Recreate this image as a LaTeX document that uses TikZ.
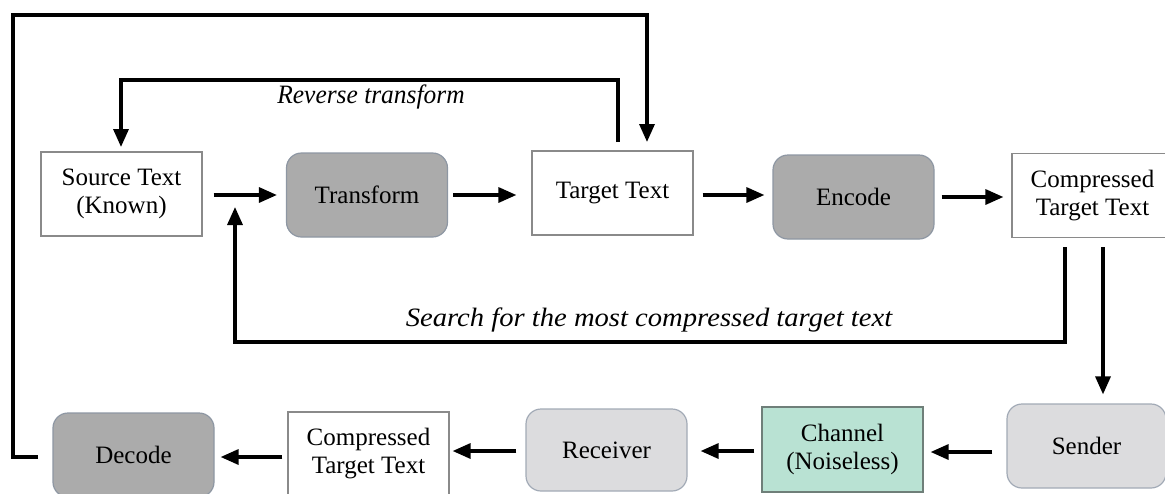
\documentclass[tikz,border=0pt]{standalone}
\usepackage{fontspec}
\setmainfont{Liberation Serif}
\usetikzlibrary{arrows.meta,calc}
\definecolor{opgray}{HTML}{ABABAB}
\definecolor{opedge}{HTML}{8E97A3}
\definecolor{lightbox}{HTML}{DCDCDE}
\definecolor{lightedge}{HTML}{A2AAB6}
\definecolor{chanfill}{HTML}{B9E2D3}
\definecolor{chanedge}{HTML}{6F7F79}
\definecolor{plainedge}{HTML}{8A8A8A}
\begin{document}
\begin{tikzpicture}[x=1pt,y=-1pt,
  every node/.style={inner sep=0pt,align=center,font=\fontsize{25}{28}\selectfont},
  box/.style={minimum width=161pt,minimum height=84pt},
  plain/.style={box,draw=plainedge,line width=1.2pt,fill=white},
  op/.style={box,draw=opedge,line width=1.2pt,fill=opgray,rounded corners=15pt},
  io/.style={box,draw=lightedge,line width=1.2pt,fill=lightbox,rounded corners=15pt},
  chan/.style={box,draw=chanedge,line width=1.2pt,fill=chanfill},
  flow/.style={line width=3.3pt,-{Triangle[length=18pt,width=15pt]}},
  lbl/.style={font=\itshape\fontsize{26.5}{28}\selectfont}]
\useasboundingbox (0,0) rectangle (1165,493);

% upper row: transform and encode
\node[plain] (src)   at (121.5,194) {Source Text\\(Known)};
\node[op]    (trans) at (367,195)   {Transform};
\node[plain] (tgt)   at (612.5,193) {Target Text};
\node[op]    (enc)   at (853.5,197) {Encode};
\node[plain] (cmp)   at (1092.5,195.5) {Compressed\\Target Text};

% lower row: transmission and decoding
\node[op]    (dec)   at (133.5,455) {Decode};
\node[plain] (rcmp)  at (368.5,454) {Compressed\\Target Text};
\node[io, minimum height=82pt] (recv) at (606.5,450) {Receiver};
\node[chan, minimum height=85pt] (chn) at (842.5,449.5) {Channel\\(Noiseless)};
\node[io, minimum width=159pt] (send) at (1086.5,446) {Sender};

% forward arrows, upper row
\draw[flow] ([xshift=11pt]src.east |- 0,195) -- ([xshift=-9pt]trans.west |- 0,195);
\draw[flow] ([xshift=5pt]trans.east |- 0,195) -- ([xshift=-15pt]tgt.west |- 0,195);
\draw[flow] ([xshift=9pt]tgt.east |- 0,195) -- ([xshift=-8pt]enc.west |- 0,195);
\draw[flow] ([xshift=7pt]enc.east |- 0,197) -- ([xshift=-8pt]cmp.west |- 0,197);

% reverse transform loop
\coordinate (revR) at (618,142);
\coordinate (revL) at (121,147);
\draw[flow] (revR) -- (618,80) -- (121,80) -- (revL);
\node[lbl] (revlbl) at (371,97) {\scalebox{0.96}[1]{Reverse transform}};

% search loop back to the transform input
\coordinate (srchS) at (1065,247);
\coordinate (srchE) at (235,207);
\draw[flow] (srchS) -- (1065,342) -- (235,342) -- (srchE);
\node[lbl] (srchlbl) at (649,320) {\scalebox{1.08}[1]{Search for the most compressed target text}};

% transmission path
\draw[flow] (1103,247) -- ([yshift=9pt]send.north -| 1103,0);
\draw[flow] ([xshift=-14pt]send.west |- 0,452) -- ([xshift=7pt]chn.east |- 0,452);
\draw[flow] ([xshift=-7pt]chn.west |- 0,451) -- ([xshift=13pt]recv.east |- 0,451);
\draw[flow] ([xshift=-9pt]recv.west |- 0,451) -- ([xshift=3pt]rcmp.east |- 0,451);
\draw[flow] ([xshift=-5pt]rcmp.west |- 0,457) -- ([xshift=6pt]dec.east |- 0,457);

% decoded output returns to the target text
\coordinate (outS) at (38,457);
\coordinate (outE) at (647,142);
\draw[flow] (outS) -- (13,457) -- (13,15) -- (647,15) -- (outE);
\end{tikzpicture}
\end{document}
